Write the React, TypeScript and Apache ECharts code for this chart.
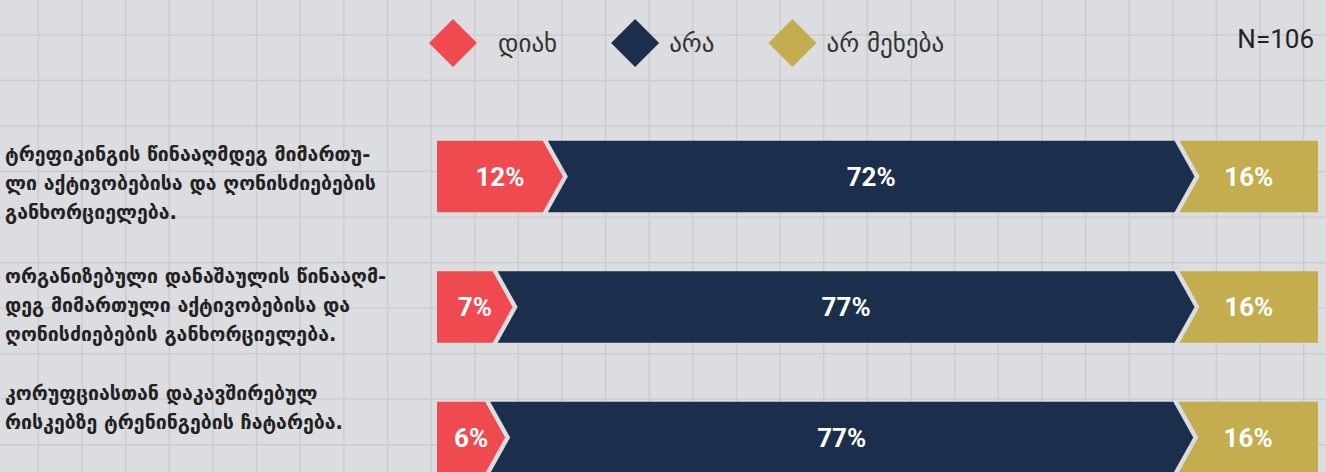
import React, { useEffect, useRef } from "react";
import * as echarts from "echarts";

// ---- data ----
const categories = [
  "ტრეფიკინგის წინააღმდეგ მიმართუ-\nლი აქტივობებისა და ღონისძიებების\nგანხორციელება.",
  "ორგანიზებული დანაშაულის წინააღმ-\nდეგ მიმართული აქტივობებისა და\nღონისძიებების განხორციელება.",
  "კორუფციასთან დაკავშირებულ\nრისკებზე ტრენინგების ჩატარება.",
];
const seriesNames = ["დიახ", "არა", "არ მეხება"];
const yesValues = [12.3, 6.6, 5.7];
const noValues = [71.7, 77.4, 77.4];
const naValues = [16.0, 16.0, 16.0];
const sampleNote = "N=106";

// ---- style ----
const colors = ["#ef4a50", "#1b2f4d", "#c4ad4f"];
const BG = "#dcdde0";
const GRID_LINE = "#cbccce";
const GAP = 5;
const DEPTH = 20;
const BAR_RATIO = 0.548;
const labelTops = [140, 262, 379];

const valueSets = [yesValues, noValues, naValues];

function buildSeriesData(segIdx: number) {
  return categories.map((_, row) => {
    const total = valueSets.reduce((s, arr) => s + arr[row], 0);
    let start = 0;
    for (let k = 0; k < segIdx; k++) start += valueSets[k][row];
    const end = start + valueSets[segIdx][row];
    return [
      (start / total) * 100,
      (end / total) * 100,
      row,
      Math.round(valueSets[segIdx][row]),
    ];
  });
}

function renderItem(params: any, api: any) {
  const seg = params.seriesIndex;
  const first = seg === 0;
  const last = seg === seriesNames.length - 1;
  const p0 = api.coord([api.value(0), api.value(2)]);
  const p1 = api.coord([api.value(1), api.value(2)]);
  const band = Math.abs(api.size([0, 1])[1]);
  const h = band * BAR_RATIO;
  const mid = p0[1];
  const top = mid - h / 2;
  const bottom = mid + h / 2;
  const xl = first ? p0[0] : p0[0] + GAP / 2;
  const xr = last ? p1[0] : p1[0] - GAP / 2;
  const pts: number[][] = [
    [xl, top],
    [xr, top],
  ];
  if (!last) pts.push([xr + DEPTH, mid]);
  pts.push([xr, bottom], [xl, bottom]);
  if (!first) pts.push([xl + DEPTH, mid]);
  const cx = (xl + (last ? xr : xr + DEPTH)) / 2;
  return {
    type: "group",
    children: [
      {
        type: "polygon",
        shape: { points: pts },
        style: { fill: colors[seg] },
      },
      {
        type: "text",
        x: cx,
        y: mid,
        style: {
          text: api.value(3) + "%",
          fill: "#ffffff",
          fontFamily: "Roboto",
          fontWeight: "bold",
          fontSize: 26,
          align: "center",
          verticalAlign: "middle",
        },
      },
    ],
  };
}

function gridLines() {
  const els: any[] = [];
  for (let x = 38.4; x < 1326; x += 43.63) {
    els.push({
      type: "line",
      silent: true,
      z: -10,
      shape: { x1: x, y1: 0, x2: x, y2: 472 },
      style: { stroke: GRID_LINE, lineWidth: 1.4 },
    });
  }
  for (let y = 35; y < 472; y += 45.52) {
    els.push({
      type: "line",
      silent: true,
      z: -10,
      shape: { x1: 0, y1: y, x2: 1326, y2: y },
      style: { stroke: GRID_LINE, lineWidth: 1.4 },
    });
  }
  return els;
}

export default function App() {
  const ref = useRef<HTMLDivElement>(null);
  useEffect(() => {
    if (!ref.current) return;
    const chart = echarts.init(ref.current, undefined, { renderer: "svg" });
    const labelEls = categories.map((c, i) => ({
      type: "text",
      left: 5,
      top: labelTops[i],
      z: 5,
      style: {
        text: c,
        fill: "#222222",
        fontFamily: "DejaVu Sans",
        fontWeight: "bold",
        fontSize: 19.5,
        lineHeight: 29,
      },
    }));
    chart.setOption({
      animation: false,
      backgroundColor: BG,
      title: {
        text: sampleNote,
        right: 7,
        top: 21,
        textStyle: {
          fontFamily: "Roboto",
          fontWeight: "normal",
          fontSize: 26,
          color: "#222222",
        },
      },
      legend: {
        left: 424,
        top: 14,
        icon: "diamond",
        itemWidth: 48,
        itemHeight: 48,
        itemGap: 54,
        selectedMode: false,
        textStyle: {
          fontFamily: "DejaVu Sans",
          fontSize: 25,
          color: "#333333",
        },
        data: [
          { name: seriesNames[0], textStyle: { padding: [0, 0, 0, 16] } },
          { name: seriesNames[1], textStyle: { padding: [0, 0, 0, 5] } },
          { name: seriesNames[2], textStyle: { padding: [0, 0, 0, 5] } },
        ],
      },
      grid: { left: 437, right: 8, top: 111.25, bottom: 0 },
      xAxis: { type: "value", min: 0, max: 100, show: false },
      yAxis: {
        type: "value",
        min: -0.5,
        max: 2.264,
        inverse: true,
        show: false,
      },
      graphic: [...gridLines(), ...labelEls],
      series: seriesNames.map((name, i) => ({
        name,
        type: "custom",
        color: colors[i],
        itemStyle: { color: colors[i] },
        renderItem,
        clip: false,
        encode: { x: [0, 1], y: 2 },
        data: buildSeriesData(i),
      })),
    });
    return () => chart.dispose();
  }, []);
  return (
    <div
      ref={ref}
      style={{ position: "fixed", left: 0, top: 0, width: 1326, height: 472 }}
    />
  );
}
